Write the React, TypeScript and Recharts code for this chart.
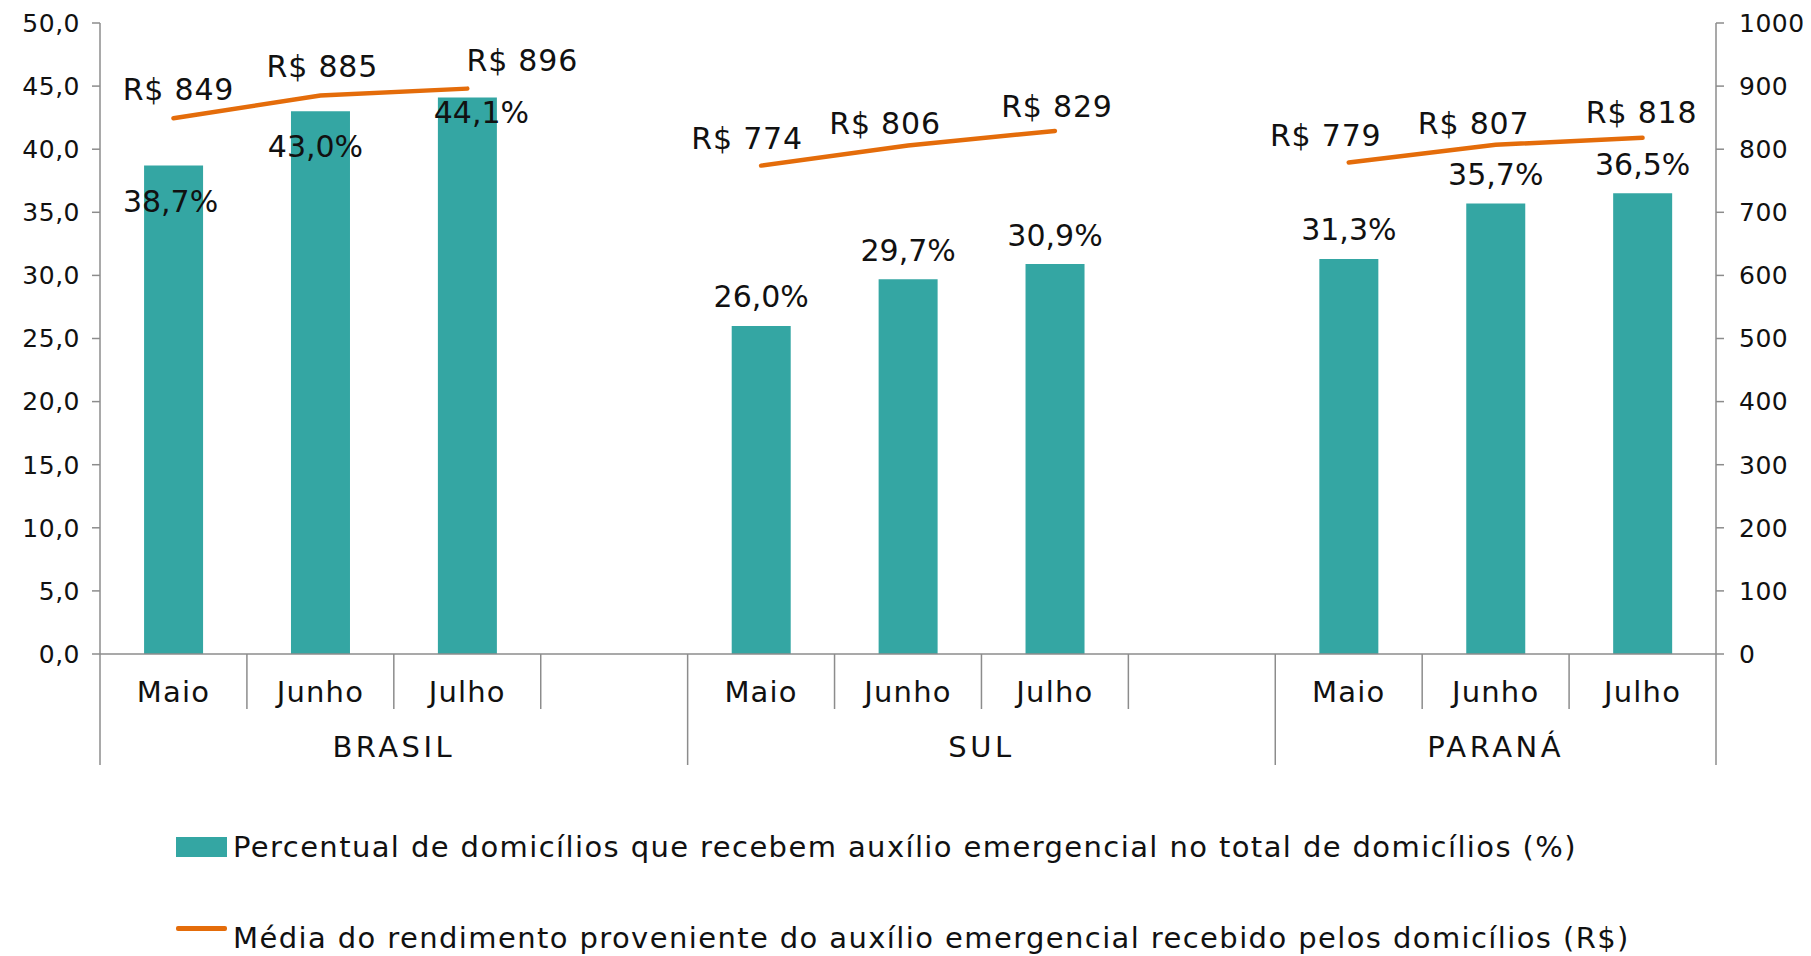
import React from 'react';
import { ComposedChart, Bar, Line, XAxis, YAxis, LabelList, Legend } from 'recharts';

const groups = ['BRASIL', 'SUL', 'PARANÁ'];
const months = ['Maio', 'Junho', 'Julho'];

const pctBrasil = [38.7, 43.0, 44.1];
const pctSul = [26.0, 29.7, 30.9];
const pctParana = [31.3, 35.7, 36.5];

const rendaBrasil = [849, 885, 896];
const rendaSul = [774, 806, 829];
const rendaParana = [779, 807, 818];

const leftTicks = [0, 5, 10, 15, 20, 25, 30, 35, 40, 45, 50];
const rightTicks = [0, 100, 200, 300, 400, 500, 600, 700, 800, 900, 1000];

const pctByGroup = [pctBrasil, pctSul, pctParana];
const rendaByGroup = [rendaBrasil, rendaSul, rendaParana];

type Row = { key: string; group: string; month: string; pct: number | null; renda: number | null };

const data: Row[] = [];
groups.forEach((g, gi) => {
  months.forEach((m, mi) => {
    data.push({ key: `${g}-${m}`, group: g, month: m, pct: pctByGroup[gi][mi], renda: rendaByGroup[gi][mi] });
  });
  if (gi < groups.length - 1) data.push({ key: `${g}-vazio`, group: g, month: '', pct: null, renda: null });
});

const W = 1795;
const H = 948;
const LEGEND_H = 158;
const LEFT_W = 92;
const RIGHT_W = 87;
const SLOT = (W - LEFT_W - RIGHT_W) / data.length;

const TEAL = '#34A6A3';
const ORANGE = '#E46C0A';
const GRAY = '#8C8C8C';
const INK = '#111111';
const FONT = '"DejaVu Sans", sans-serif';

// hand nudges so labels sit where the original put them
const barNudge: Record<number, [number, number]> = { 0: [-3, 36], 1: [-5, 35], 2: [14, 15] };
const lineNudge: Record<number, [number, number]> = {
  0: [5, -29], 1: [2, -29], 2: [55, -28],
  4: [-14, -27], 5: [-23, -22], 6: [2, -24],
  8: [-23, -27], 9: [-22, -21], 10: [-1, -25],
};

const fmtPct = (v: number) => v.toFixed(1).replace('.', ',') + '%';

function CategoryTick(props: any) {
  const { x, y, payload } = props;
  const idx = data.findIndex((d) => d.key === payload.value);
  if (idx < 0) return null;
  const row = data[idx];
  const left = x - SLOT / 2;
  const groupStart = idx === 0 || data[idx - 1].group !== row.group;
  const isLast = idx === data.length - 1;
  const span = data.filter((d) => d.group === row.group).length;
  return (
    <g>
      <line x1={left} x2={left} y1={y} y2={y + (groupStart ? 111 : 55)} stroke={GRAY} strokeWidth={1.5} />
      {isLast && <line x1={left + SLOT} x2={left + SLOT} y1={y} y2={y + 111} stroke={GRAY} strokeWidth={1.5} />}
      <text x={x} y={y + 38} textAnchor="middle" dominantBaseline="central" fontSize={29} letterSpacing={1.2} fill={INK} fontFamily={FONT}>
        {row.month}
      </text>
      {groupStart && (
        <text x={left + (span * SLOT) / 2} y={y + 93} textAnchor="middle" dominantBaseline="central" fontSize={29} letterSpacing={3.5} fill={INK} fontFamily={FONT}>
          {row.group}
        </text>
      )}
    </g>
  );
}

function BarLabel(props: any) {
  const { x, y, width, value, index } = props;
  if (value == null) return null;
  const [dx, dy] = barNudge[index] ?? [0, -29];
  return (
    <text x={x + width / 2 + dx} y={y + dy} textAnchor="middle" dominantBaseline="central" fontSize={30} fill={INK} fontFamily={FONT}>
      {fmtPct(value)}
    </text>
  );
}

function LineLabel(props: any) {
  const { x, y, value, index } = props;
  if (value == null) return null;
  const [dx, dy] = lineNudge[index] ?? [0, -27];
  return (
    <text x={x + dx} y={y + dy} textAnchor="middle" dominantBaseline="central" fontSize={30} letterSpacing={0.8} fill={INK} fontFamily={FONT}>
      {`R$ ${value}`}
    </text>
  );
}

function LegendBox() {
  const text: React.CSSProperties = {
    position: 'absolute', left: 225, fontSize: 29, letterSpacing: 1.4, color: INK,
    fontFamily: FONT, lineHeight: '40px', whiteSpace: 'nowrap',
  };
  return (
    <div style={{ position: 'relative', width: W, height: LEGEND_H }}>
      <div style={{ position: 'absolute', left: 168, top: 39, width: 51, height: 20, background: TEAL }} />
      <div style={{ ...text, top: 29 }}>Percentual de domicílios que recebem auxílio emergencial no total de domicílios (%)</div>
      <div style={{ position: 'absolute', left: 168, top: 128, width: 51, height: 5, background: ORANGE, borderRadius: 2 }} />
      <div style={{ ...text, top: 120 }}>Média do rendimento proveniente do auxílio emergencial recebido pelos domicílios (R$)</div>
    </div>
  );
}

export default function App() {
  return (
    <div style={{ width: W, height: H, fontFamily: FONT }}>
      <ComposedChart width={W} height={H} data={data} margin={{ top: 15, right: 0, left: 0, bottom: 0 }} barCategoryGap="30%">
        <XAxis
          dataKey="key"
          xAxisId="cat"
          interval={0}
          height={144}
          tickSize={0}
          tickMargin={0}
          tickLine={false}
          axisLine={{ stroke: GRAY, strokeWidth: 1.5 }}
          tick={<CategoryTick />}
        />
        <YAxis
          yAxisId="pct"
          domain={[0, 50]}
          ticks={leftTicks}
          width={LEFT_W}
          tickSize={8}
          tickMargin={12}
          tickFormatter={(v: number) => v.toFixed(1).replace('.', ',')}
          axisLine={{ stroke: GRAY, strokeWidth: 1.5 }}
          tickLine={{ stroke: GRAY, strokeWidth: 1.5 }}
          tick={{ fill: INK, fontSize: 25, fontFamily: FONT, letterSpacing: 0.5 }}
        />
        <YAxis
          yAxisId="renda"
          orientation="right"
          domain={[0, 1000]}
          ticks={rightTicks}
          width={RIGHT_W}
          tickSize={8}
          tickMargin={15}
          axisLine={{ stroke: GRAY, strokeWidth: 1.5 }}
          tickLine={{ stroke: GRAY, strokeWidth: 1.5 }}
          tick={{ fill: INK, fontSize: 25, fontFamily: FONT, textAnchor: 'start', letterSpacing: 0.5 }}
        />
        <Legend verticalAlign="bottom" content={() => <LegendBox />} wrapperStyle={{ left: 0, width: W, height: LEGEND_H }} />
        <Bar dataKey="pct" xAxisId="cat" yAxisId="pct" fill={TEAL} isAnimationActive={false}>
          <LabelList dataKey="pct" content={<BarLabel />} />
        </Bar>
        <Line
          dataKey="renda"
          xAxisId="cat"
          yAxisId="renda"
          type="linear"
          stroke={ORANGE}
          strokeWidth={4.5}
          strokeLinecap="round"
          dot={false}
          connectNulls={false}
          isAnimationActive={false}
        >
          <LabelList dataKey="renda" content={<LineLabel />} />
        </Line>
      </ComposedChart>
    </div>
  );
}
